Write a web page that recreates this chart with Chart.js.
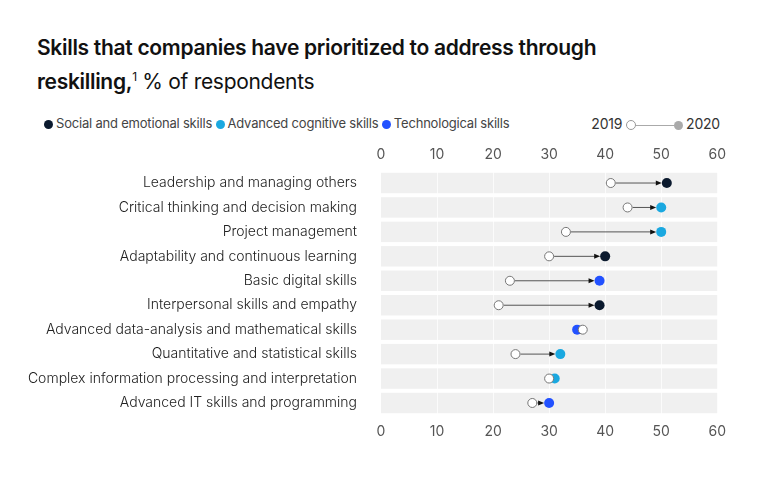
<!doctype html>
<html>
<head>
<meta charset="UTF-8" />
<script src="https://cdn.jsdelivr.net/npm/chart.js"></script>
<style>
body{margin:0;width:767px;height:480px;background:#fff;font-family:Inter,"Noto Sans",sans-serif;color:#111;position:relative;overflow:hidden}
#title{position:absolute;left:37px;top:33px;font-size:21px;line-height:29px;letter-spacing:-0.3px}
#title b{font-weight:600}
#legend{position:absolute;left:44px;top:115px;width:676px;font-size:13px;color:#444;letter-spacing:-0.2px}
.dot{display:inline-block;width:9px;height:9px;border-radius:50%;margin-right:3px;vertical-align:-1px}
#yr{position:absolute;right:0;top:0;font-size:14px;color:#333}
#box{position:absolute;left:0;top:146px;width:726px;height:294px}
</style>
</head>
<body>
<div id="title"><b>Skills that companies have prioritized to address through<br>reskilling,</b><sup style="font-size:12px">1</sup> % of respondents</div>
<div id="legend">
<span><span class="dot" style="background:#0b1a2e"></span>Social and emotional skills</span>
<span><span class="dot" style="background:#1aa8e0"></span>Advanced cognitive skills</span>
<span><span class="dot" style="background:#2251ff"></span>Technological skills</span>
<span id="yr">2019 <span class="dot" style="background:#fff;border:1px solid #999;width:8px;height:8px;margin:0"></span><span style="display:inline-block;width:38px;border-top:1px solid #aaa;vertical-align:3px"></span><span class="dot" style="background:#aaa;margin-left:0"></span>2020</span>
</div>
<div id="box"><canvas id="c"></canvas></div>
<script>
const skills = ['Leadership and managing others','Critical thinking and decision making','Project management','Adaptability and continuous learning','Basic digital skills','Interpersonal skills and empathy','Advanced data-analysis and mathematical skills','Quantitative and statistical skills','Complex information processing and interpretation','Advanced IT skills and programming'];
const v2019 = [41,44,33,30,23,21,36,24,30,27];
const v2020 = [51,50,50,40,39,39,35,32,31,30];
const group = ['social','cognitive','cognitive','social','tech','social','tech','cognitive','cognitive','tech'];
const groupColors = {social:'#0b1a2e', cognitive:'#1aa8e0', tech:'#2251ff'};
const xTicks = [0,10,20,30,40,50,60];

const bands = {
  id:'bands',
  beforeDatasetsDraw(chart){
    const {ctx, scales:{x,y}} = chart;
    const h = Math.abs(y.getPixelForValue(1)-y.getPixelForValue(0));
    ctx.save();
    skills.forEach((s,i)=>{
      const yc = y.getPixelForValue(i);
      ctx.fillStyle='#f0f0f0';
      ctx.fillRect(x.getPixelForValue(0), yc-h/2+2, x.getPixelForValue(60)-x.getPixelForValue(0), h-4);
    });
    ctx.strokeStyle='rgba(255,255,255,0.7)';ctx.lineWidth=1;
    xTicks.slice(1,-1).forEach(t=>{
      const px=Math.round(x.getPixelForValue(t))+0.5;
      ctx.beginPath();ctx.moveTo(px,y.getPixelForValue(0)-h/2);ctx.lineTo(px,y.getPixelForValue(skills.length-1)+h/2);ctx.stroke();
    });
    // arrows 2019 -> 2020
    ctx.strokeStyle='#555';ctx.fillStyle='#111';
    skills.forEach((s,i)=>{
      const a=x.getPixelForValue(v2019[i]), b=x.getPixelForValue(v2020[i]), yc=y.getPixelForValue(i);
      if(Math.abs(b-a)<12) { if(b-a>8){ctx.beginPath();ctx.moveTo(a+5,yc);ctx.lineTo(b-5,yc);ctx.stroke();} return; }
      const d=Math.sign(b-a);
      ctx.beginPath();ctx.moveTo(a+5*d,yc);ctx.lineTo(b-10*d,yc);ctx.stroke();
      ctx.beginPath();ctx.moveTo(b-5*d,yc);ctx.lineTo(b-11*d,yc-2.5);ctx.lineTo(b-11*d,yc+2.5);ctx.closePath();ctx.fill();
    });
    ctx.restore();
  }
};

const tickFont = {family:'Inter, "Noto Sans", sans-serif', size:14};
new Chart(document.getElementById('c'), {
  type:'scatter',
  data:{datasets:[
    {label:'2019', data:v2019.map((v,i)=>({x:v,y:i})), pointRadius:4.5, pointBackgroundColor:'#fff', pointBorderColor:'#777', pointBorderWidth:1},
    {label:'2020', data:v2020.map((v,i)=>({x:v,y:i})), pointRadius:5, pointBorderWidth:0, pointBackgroundColor:group.map(g=>groupColors[g])}
  ]},
  plugins:[bands],
  options:{
    animation:false, responsive:true, maintainAspectRatio:false,
    layout:{padding:0},
    plugins:{legend:{display:false},tooltip:{enabled:false}},
    scales:{
      x:{position:'bottom',min:0,max:60,afterBuildTicks:s=>{s.ticks=xTicks.map(v=>({value:v}))},grid:{display:false},border:{display:false},ticks:{color:'#555',font:tickFont,padding:0}},
      x2:{position:'top',min:0,max:60,afterBuildTicks:s=>{s.ticks=xTicks.map(v=>({value:v}))},grid:{display:false},border:{display:false},ticks:{color:'#555',font:tickFont,padding:0}},
      y:{type:'linear',reverse:true,min:-0.5,max:skills.length-0.5,afterBuildTicks:s=>{s.ticks=skills.map((n,i)=>({value:i}))},afterFit:s=>{s.width=381},grid:{display:false},border:{display:false},ticks:{color:'#222',font:{family:'Inter, "Noto Sans", sans-serif',size:14,weight:300},padding:16,callback:(v)=>skills[v]}}
    }
  }
});
</script>
</body>
</html>
